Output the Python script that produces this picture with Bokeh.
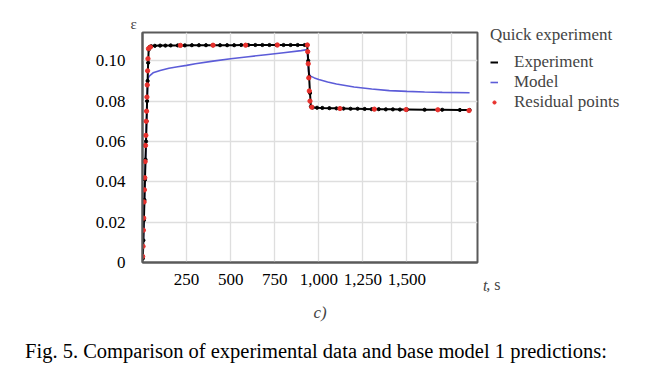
from bokeh.plotting import figure
from bokeh.layouts import column
from bokeh.models import (FixedTicker, PrintfTickFormatter, NumeralTickFormatter, Range1d,
                          Legend, LegendItem, Title, Div)
from bokeh.embed import file_html
from bokeh.resources import INLINE

# ---- data ----
exp_t = [2, 5, 8, 11, 14, 17, 20, 23, 26, 29, 32, 35, 40, 50, 70, 100, 130, 160, 200, 240,
         280, 320, 360, 400, 440, 480, 520, 560, 600, 640, 680, 720, 760, 800, 840, 880, 920,
         934, 940, 945, 950, 955, 965, 990, 1020, 1060, 1100, 1140, 1180, 1220, 1260, 1300,
         1340, 1380, 1420, 1460, 1500, 1600, 1700, 1800, 1855]
exp_eps = [0.002, 0.011, 0.021, 0.031, 0.041, 0.051, 0.060, 0.070, 0.080, 0.090, 0.099, 0.1055,
           0.1068, 0.1072, 0.1074, 0.1075, 0.1075, 0.1076, 0.1076, 0.1076, 0.1077, 0.1077,
           0.1077, 0.1077, 0.1077, 0.1077, 0.1077, 0.1078, 0.1078, 0.1078, 0.1078, 0.1078,
           0.1078, 0.1078, 0.1078, 0.1078, 0.1078, 0.1078, 0.100, 0.092, 0.084, 0.0772,
           0.0768, 0.0767, 0.0766, 0.0765, 0.0764, 0.0763, 0.0762, 0.0762, 0.0761, 0.0760,
           0.0760, 0.0759, 0.0759, 0.0758, 0.0758, 0.0757, 0.0757, 0.0756, 0.0756]

model_t = [2, 5, 8, 11, 14, 17, 20, 23, 26, 29, 33, 40, 60, 100, 150, 200, 250, 300, 400, 500,
           600, 700, 800, 900, 934, 938, 942, 950, 975, 1000, 1050, 1100, 1200, 1300, 1400,
           1500, 1600, 1700, 1855]
model_eps = [0.002, 0.011, 0.021, 0.031, 0.041, 0.051, 0.060, 0.070, 0.080, 0.088, 0.0915,
             0.0925, 0.0940, 0.0952, 0.0963, 0.0970, 0.0977, 0.0985, 0.0998, 0.1010, 0.1020,
             0.1030, 0.1040, 0.1050, 0.1055, 0.1000, 0.0945, 0.0925, 0.0915, 0.0907, 0.0895,
             0.0885, 0.0870, 0.0860, 0.0852, 0.0848, 0.0845, 0.0843, 0.0841]

res_t = [1, 3, 5, 7, 9, 11, 13, 15, 17, 19, 21, 23, 25, 27, 29, 31, 34,
         45, 215, 400, 585, 765, 935,
         937, 940, 943, 946, 950,
         960, 1120, 1315, 1495, 1675, 1852]
res_eps = [0.003, 0.008, 0.016, 0.022, 0.030, 0.036, 0.042, 0.050, 0.058, 0.063, 0.070, 0.075,
           0.082, 0.088, 0.095, 0.101, 0.106,
           0.1068, 0.1076, 0.1077, 0.1077, 0.1078, 0.1078,
           0.1045, 0.0985, 0.0915, 0.085, 0.080,
           0.0770, 0.0763, 0.0760, 0.0758, 0.0757, 0.0753]

y_ticks = [0, 0.02, 0.04, 0.06, 0.08, 0.10]
x_ticks = [250, 500, 750, 1000, 1250, 1500, 1750]

FONT = "Liberation Serif"

p = figure(frame_width=335, frame_height=230, output_backend="svg", toolbar_location=None,
           x_range=Range1d(0, 1900), y_range=Range1d(0, 0.114),
           min_border_left=142, min_border_right=0, min_border_top=32, min_border_bottom=76)
p.background_fill_color = "white"
p.border_fill_color = "white"
p.outline_line_color = "#5a5a5a"
p.outline_line_width = 2

# axes
p.yaxis.ticker = FixedTicker(ticks=y_ticks)
p.yaxis.formatter = PrintfTickFormatter(format="%.2f")
p.yaxis.major_label_overrides = {0: "0"}
p.xaxis.ticker = FixedTicker(ticks=x_ticks)
p.xaxis.formatter = NumeralTickFormatter(format="0,0")
p.xaxis.major_label_overrides = {1750: ""}
for ax in (p.xaxis[0], p.yaxis[0]):
    ax.major_tick_line_color = None
    ax.minor_tick_line_color = None
    ax.axis_line_color = "#5a5a5a"
    ax.axis_line_width = 2
    ax.major_label_text_font = FONT
    ax.major_label_text_font_size = "17px"
    ax.major_label_text_color = "black"
p.yaxis.major_label_standoff = 11
p.yaxis.major_label_text_baseline = "top"
p.xaxis.major_label_standoff = 5

p.xgrid.ticker = FixedTicker(ticks=x_ticks)
p.ygrid.ticker = FixedTicker(ticks=y_ticks)
p.xgrid.grid_line_color = "#dedede"
p.ygrid.grid_line_color = "#dedede"
p.xgrid.grid_line_width = 1.3
p.ygrid.grid_line_width = 1.3

# data
model_line = p.line(model_t, model_eps, line_color="#5c5cd8", line_width=1.6)
exp_line = p.line(exp_t, exp_eps, line_color="black", line_width=2)
p.scatter(exp_t, exp_eps, size=3.2, color="black")
res = p.scatter(res_t, res_eps, size=4.3, color="#e8302c", line_color="#e8302c")

legend = Legend(items=[LegendItem(label="Experiment", renderers=[exp_line]),
                       LegendItem(label="Model", renderers=[model_line]),
                       LegendItem(label="Residual points", renderers=[res])],
                title="Quick experiment", location=(13, 150),
                margin=0, padding=0, spacing=0, glyph_width=8, glyph_height=20,
                label_height=20, label_standoff=16, title_standoff=7,
                background_fill_alpha=0, border_line_color=None,
                label_text_font=FONT, label_text_font_size="17px",
                title_text_font=FONT, title_text_font_size="17px",
                title_text_font_style="normal")
p.add_layout(legend, "right")

# texts
p.add_layout(Title(text="ε", align="left", offset=-12, standoff=2,
                   text_font=FONT, text_font_size="15px", text_font_style="normal"), "above")
p.add_layout(Title(text="t", align="right", offset=-10, standoff=-22, vertical_align="top",
                   text_font=FONT, text_font_size="16px", text_font_style="italic"), "below")
p.add_layout(Title(text=", s", align="right", offset=-23, standoff=-24, vertical_align="top",
                   text_font=FONT, text_font_size="16px", text_font_style="normal"), "below")
p.add_layout(Title(text="c)", align="left", offset=171, standoff=30, vertical_align="top",
                   text_font=FONT, text_font_size="17px", text_font_style="italic"), "below")

caption = Div(text="Fig. 5. Comparison of experimental data and base model 1 predictions:",
              width=632, height=30, margin=(0, 0, 0, 0),
              styles={"font-family": "Liberation Serif", "font-size": "20.5px",
                      "text-align": "center", "color": "black", "line-height": "26px",
                      "white-space": "nowrap"})

layout = column(p, caption, spacing=0)
open("out.html", "w").write(file_html(layout, INLINE))
